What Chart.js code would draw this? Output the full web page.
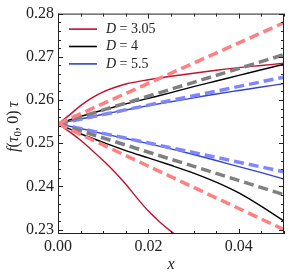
<!DOCTYPE html>
<html>
<head>
<meta charset="utf-8">
<script src="https://cdn.jsdelivr.net/npm/chart.js@4"></script>
<style>
  html, body { margin: 0; padding: 0; background: #fff; }
  #wrap { width: 290px; height: 279px; }
</style>
</head>
<body>
<div id="wrap"><canvas id="c"></canvas></div>
<script>
// values
const dValues = ['3.05', '4', '5.5'];

const xDash = [0, 0.05];
const redDashUp = [0.2545, 0.2779];
const redDashLow = [0.2545, 0.2300];
const grayDashUp = [0.2545, 0.2705];
const grayDashLow = [0.2545, 0.2381];
const blueDashUp = [0.2545, 0.2653];
const blueDashLow = [0.2545, 0.2434];

const xRedUp = [0, 0.0025, 0.005, 0.0075, 0.01, 0.0125, 0.015, 0.02, 0.025, 0.03, 0.035, 0.04, 0.045, 0.05];
const redUp = [0.2545, 0.2565, 0.2587, 0.2605, 0.2619, 0.2629, 0.2637, 0.2647, 0.2655, 0.2662, 0.2669, 0.2675, 0.2680, 0.2685];
const xRedLow = [0, 0.0025, 0.005, 0.0075, 0.01, 0.0125, 0.015, 0.0175, 0.02, 0.0225, 0.025, 0.0275, 0.03];
const redLow = [0.2545, 0.2527, 0.2507, 0.2484, 0.2460, 0.2434, 0.2405, 0.2373, 0.2343, 0.2318, 0.2296, 0.2277, 0.2260];

const xSolid = [0, 0.005, 0.01, 0.015, 0.02, 0.025, 0.03, 0.035, 0.04, 0.045, 0.05];
const blackUp = [0.2545, 0.2562, 0.2577, 0.2591, 0.2604, 0.2617, 0.2631, 0.2644, 0.2657, 0.2670, 0.2683];
const blackLow = [0.2545, 0.2522, 0.2502, 0.2483, 0.2466, 0.2449, 0.2431, 0.2410, 0.2385, 0.2354, 0.2320];
const blueUp = [0.2545, 0.2556, 0.2567, 0.2577, 0.2587, 0.2596, 0.2605, 0.2614, 0.2622, 0.2630, 0.2638];
const blueLow = [0.2545, 0.2534, 0.2522, 0.2511, 0.2499, 0.2487, 0.2474, 0.2460, 0.2446, 0.2432, 0.2417];

const RED = '#c0122f', BLACK = '#000000', BLUE = '#3344cc';
const RED_D = '#ff8080', GRAY_D = '#808080', BLUE_D = '#7f86ff';
const SERIF = '"Liberation Serif", "DejaVu Serif", serif';

const pts = (xs, ys) => xs.map((x, i) => ({ x: x, y: ys[i] }));

function solid(label, xs, ys, color) {
  return {
    label: label, data: pts(xs, ys), borderColor: color, borderWidth: 1.4,
    pointRadius: 0, cubicInterpolationMode: 'monotone', order: 1, inLegend: !!label
  };
}
function dashed(xs, ys, color) {
  return {
    label: '', data: pts(xs, ys), borderColor: color, borderWidth: 3.5,
    borderDash: [10, 5], pointRadius: 0, order: 0, inLegend: false
  };
}

const datasets = [
  dashed(xDash, redDashUp, RED_D),
  dashed(xDash, redDashLow, RED_D),
  dashed(xDash, grayDashUp, GRAY_D),
  dashed(xDash, grayDashLow, GRAY_D),
  dashed(xDash, blueDashUp, BLUE_D),
  dashed(xDash, blueDashLow, BLUE_D),
  solid('D = ' + dValues[0], xRedUp, redUp, RED),
  solid('', xRedLow, redLow, RED),
  solid('D = ' + dValues[1], xSolid, blackUp, BLACK),
  solid('', xSolid, blackLow, BLACK),
  solid('D = ' + dValues[2], xSolid, blueUp, BLUE),
  solid('', xSolid, blueLow, BLUE)
];

const isMult = (v, step) => Math.abs(v / step - Math.round(v / step)) < 1e-6;

// frame, inward ticks, legend and axis titles
const decor = {
  id: 'decor',
  afterDatasetsDraw(chart) {
    const { ctx, chartArea: a, scales: { x, y } } = chart;
    ctx.save();
    ctx.strokeStyle = '#222';
    ctx.lineWidth = 1;
    ctx.strokeRect(a.left + 0.5, a.top + 0.5, a.right - a.left - 1, a.bottom - a.top - 1);

    ctx.beginPath();
    x.ticks.forEach(t => {
      const px = Math.round(x.getPixelForValue(t.value)) + 0.5;
      const len = isMult(t.value, 0.02) ? 5 : 3;
      ctx.moveTo(px, a.bottom); ctx.lineTo(px, a.bottom - len);
      ctx.moveTo(px, a.top); ctx.lineTo(px, a.top + len);
    });
    y.ticks.forEach(t => {
      const py = Math.round(y.getPixelForValue(t.value)) + 0.5;
      const len = isMult(t.value, 0.01) ? 5 : 3;
      ctx.moveTo(a.left, py); ctx.lineTo(a.left + len, py);
      ctx.moveTo(a.right, py); ctx.lineTo(a.right - len, py);
    });
    ctx.stroke();

    // legend
    let row = 0;
    chart.data.datasets.forEach(ds => {
      if (!ds.inLegend) return;
      const ly = a.top + 15.5 + row * 17.4;
      ctx.strokeStyle = ds.borderColor;
      ctx.lineWidth = 1.6;
      ctx.beginPath();
      ctx.moveTo(a.left + 11, ly); ctx.lineTo(a.left + 39, ly);
      ctx.stroke();
      ctx.fillStyle = '#222';
      ctx.textBaseline = 'middle';
      ctx.textAlign = 'left';
      ctx.font = 'italic 14px ' + SERIF;
      const tx = a.left + 48;
      ctx.fillText('D', tx, ly);
      const w = ctx.measureText('D').width;
      ctx.font = '14px ' + SERIF;
      ctx.fillText(ds.label.replace('D', ''), tx + w, ly);
      row++;
    });

    // x title
    ctx.fillStyle = '#222';
    ctx.font = 'italic 16px ' + SERIF;
    ctx.textAlign = 'center';
    ctx.textBaseline = 'middle';
    ctx.fillText('x', (a.left + a.right) / 2, 265);

    // y title  f(τ0, 0) τ
    const parts = [
      ['italic 16px', 'f', 0], ['16px', '(', 0], ['italic 16px', 'τ', 0],
      ['11px', '0', 4], ['16px', ',\u2009', 0], ['16px', '0)\u2009', 0], ['italic 16px', 'τ', 0]
    ];
    let total = 0;
    parts.forEach(p => { ctx.font = p[0] + ' ' + SERIF; total += ctx.measureText(p[1]).width; });
    ctx.translate(14, (a.top + a.bottom) / 2 + 3);
    ctx.rotate(-Math.PI / 2);
    ctx.textAlign = 'left';
    let cx = -total / 2;
    parts.forEach(p => {
      ctx.font = p[0] + ' ' + SERIF;
      ctx.fillText(p[1], cx, p[2]);
      cx += ctx.measureText(p[1]).width;
    });
    ctx.restore();
  }
};

new Chart(document.getElementById('c'), {
  type: 'line',
  data: { datasets: datasets },
  options: {
    responsive: true,
    maintainAspectRatio: false,
    animation: false,
    layout: { padding: { left: 0, top: 12, right: 6, bottom: 0 } },
    plugins: { legend: { display: false }, tooltip: { enabled: false } },
    scales: {
      x: {
        type: 'linear', min: 0, max: 0.05,
        grid: { display: false, drawTicks: false },
        border: { display: false },
        afterFit: s => { s.height = 45; },
        ticks: {
          stepSize: 0.005, autoSkip: false, maxRotation: 0, includeBounds: false,
          padding: 3, color: '#222', font: { family: SERIF, size: 16 },
          callback: v => isMult(v, 0.02) ? v.toFixed(2) : ''
        }
      },
      y: {
        type: 'linear', min: 0.229, max: 0.28,
        grid: { display: false, drawTicks: false },
        border: { display: false },
        afterFit: s => { s.width = 58; },
        ticks: {
          stepSize: 0.002, autoSkip: false, includeBounds: false,
          padding: 4, color: '#222', font: { family: SERIF, size: 16 },
          callback: v => isMult(v, 0.01) ? v.toFixed(2) : ''
        }
      }
    }
  },
  plugins: [decor]
});
</script>
</body>
</html>
